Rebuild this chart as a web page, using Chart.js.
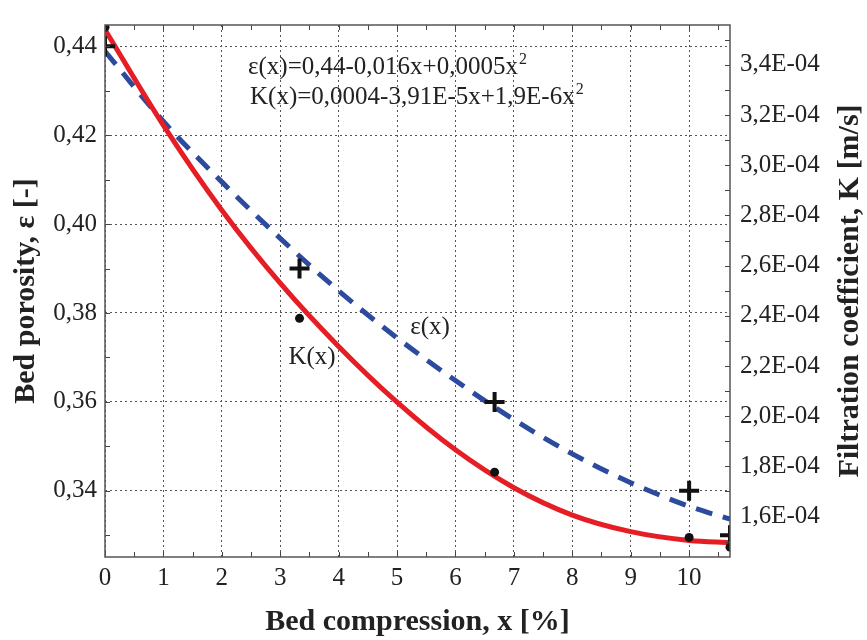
<!DOCTYPE html>
<html>
<head>
<meta charset="utf-8">
<script src="https://cdn.jsdelivr.net/npm/chart.js@4.4.0/dist/chart.umd.min.js"></script>
<style>
html,body{margin:0;padding:0;background:#fff;}
#wrap{width:867px;height:640px;position:relative;}
</style>
</head>
<body>
<div id="wrap"><canvas id="c" width="867" height="640"></canvas></div>
<script>
// ---- data ----
const fitX = [0, 1, 2, 3, 4, 5, 6, 7, 8, 9, 10, 10.7];
const porosityFit = [0.4389, 0.4231, 0.4095, 0.3968, 0.3850, 0.3744, 0.3648, 0.3560, 0.3483, 0.3418, 0.3365, 0.3336];
const kFit = [3.540e-4, 3.159e-4, 2.821e-4, 2.530e-4, 2.278e-4, 2.056e-4, 1.866e-4, 1.715e-4, 1.606e-4, 1.540e-4, 1.505e-4, 1.497e-4];
const measX = [0, 3.33, 6.67, 10, 10.7];
const porosityMeas = [0.44, 0.39, 0.36, 0.34, 0.33];
const kMeas = [3.55e-4, 2.390e-4, 1.777e-4, 1.517e-4, 1.478e-4];

const xTickLabels = ['0', '1', '2', '3', '4', '5', '6', '7', '8', '9', '10'];
const leftTickLabels = ['0,34', '0,36', '0,38', '0,40', '0,42', '0,44'];
const rightTickLabels = ['1,6E-04', '1,8E-04', '2,0E-04', '2,2E-04', '2,4E-04', '2,6E-04', '2,8E-04', '3,0E-04', '3,2E-04', '3,4E-04'];

const xTitle = 'Bed compression, x [%]';
const leftTitle = 'Bed porosity, ε [-]';
const rightTitle = 'Filtration coefficient, K [m/s]';
const eqLines = ['ε(x)=0,44-0,016x+0,0005x', 'K(x)=0,0004-3,91E-5x+1,9E-6x'];
const curveLabels = ['ε(x)', 'K(x)'];

// ---- helpers ----
const pts = (xs, ys) => xs.map((x, i) => ({x: x, y: ys[i]}));
const SERIF = '"Liberation Serif", "Times New Roman", serif';
const TXT = '#222';
const GRID = '#555';

const decorPlugin = {
  id: 'decor',
  afterDraw(chart) {
    const ctx = chart.ctx;
    const a = chart.chartArea;
    const xs = chart.scales.x, yl = chart.scales.y, yr = chart.scales.y1;
    ctx.save();
    // inner tick marks
    ctx.strokeStyle = '#444';
    ctx.lineWidth = 1;
    ctx.beginPath();
    yl.ticks.forEach(t => {
      const p = Math.round(yl.getPixelForValue(t.value)) + 0.5;
      ctx.moveTo(a.left, p); ctx.lineTo(a.left + 5, p);
    });
    yr.ticks.forEach(t => {
      const p = Math.round(yr.getPixelForValue(t.value)) + 0.5;
      ctx.moveTo(a.right, p); ctx.lineTo(a.right - 5, p);
    });
    for (let k = 0; k * 0.5 <= xs.max + 1e-9; k++) {
      const p = Math.round(xs.getPixelForValue(k * 0.5)) + 0.5;
      ctx.moveTo(p, a.bottom); ctx.lineTo(p, a.bottom - 5);
      ctx.moveTo(p, a.top); ctx.lineTo(p, a.top + 5);
    }
    ctx.stroke();
    // frame
    ctx.strokeStyle = '#555';
    ctx.lineWidth = 1.5;
    ctx.strokeRect(a.left, a.top, a.right - a.left, a.bottom - a.top);

    // right axis title (reads bottom to top)
    ctx.fillStyle = TXT;
    ctx.font = 'bold 30px ' + SERIF;
    ctx.textAlign = 'center';
    ctx.textBaseline = 'middle';
    ctx.translate(850, (a.top + a.bottom) / 2);
    ctx.rotate(-Math.PI / 2);
    ctx.fillText(rightTitle, 0, 0);
    ctx.restore();

    // equations
    ctx.save();
    ctx.fillStyle = TXT;
    ctx.textAlign = 'left';
    ctx.textBaseline = 'alphabetic';
    const eqPos = [[248, 74], [250, 104]];
    eqLines.forEach((s, i) => {
      ctx.font = '25px ' + SERIF;
      ctx.fillText(s, eqPos[i][0], eqPos[i][1]);
      const w = ctx.measureText(s).width;
      ctx.font = '16px ' + SERIF;
      ctx.fillText('2', eqPos[i][0] + w + 1, eqPos[i][1] - 10);
    });
    // curve labels
    ctx.font = '25px ' + SERIF;
    ctx.textAlign = 'center';
    ctx.textBaseline = 'middle';
    ctx.fillText(curveLabels[0], 430, 327);
    ctx.fillText(curveLabels[1], 312, 357);
    ctx.restore();
  }
};

const tickFont = {family: SERIF, size: 25};
const titleFont = {family: SERIF, size: 30, weight: 'bold'};

new Chart(document.getElementById('c'), {
  type: 'line',
  data: {
    datasets: [
      {
        label: 'porosity measured', data: pts(measX, porosityMeas), yAxisID: 'y',
        showLine: false, pointStyle: 'cross', pointRadius: 10, pointBorderWidth: 4,
        pointBorderColor: '#111', pointBackgroundColor: '#111', order: 0
      },
      {
        label: 'K measured', data: pts(measX, kMeas), yAxisID: 'y1',
        showLine: false, pointStyle: 'circle', pointRadius: 4.5, pointBorderWidth: 0,
        pointBorderColor: '#111', pointBackgroundColor: '#111', order: 0
      },
      {
        label: 'K(x)', data: pts(fitX, kFit), yAxisID: 'y1',
        borderColor: '#e51e25', borderWidth: 5, pointRadius: 0,
        cubicInterpolationMode: 'monotone', fill: false, order: 1
      },
      {
        label: 'ε(x)', data: pts(fitX, porosityFit), yAxisID: 'y',
        borderColor: '#2c4a9e', borderWidth: 5, borderDash: [17, 11], pointRadius: 0,
        cubicInterpolationMode: 'monotone', fill: false, order: 2
      }
    ]
  },
  options: {
    responsive: false,
    animation: false,
    devicePixelRatio: 1,
    layout: {padding: {top: 11, left: 0, right: 0, bottom: 0}},
    plugins: {legend: {display: false}, tooltip: {enabled: false}},
    scales: {
      x: {
        type: 'linear', min: 0, max: 10.7,
        afterFit: s => { s.height = 83; },
        ticks: {
          stepSize: 1, includeBounds: false, autoSkip: false, maxRotation: 0,
          font: tickFont, color: TXT, padding: 6,
          callback: v => { const i = Math.round(v); return Math.abs(v - i) < 1e-6 && xTickLabels[i] !== undefined ? xTickLabels[i] : ''; }
        },
        grid: {color: GRID, lineWidth: 1, drawTicks: false},
        border: {display: false, dash: [2, 3]},
        title: {display: true, text: xTitle, font: titleFont, color: TXT, padding: {top: 0, bottom: 0}}
      },
      y: {
        type: 'linear', position: 'left', min: 0.3251, max: 0.4448,
        afterFit: s => { s.width = 105; },
        ticks: {
          stepSize: 0.01, includeBounds: false, autoSkip: false,
          font: tickFont, color: TXT, padding: 8,
          callback: v => { const n = Math.round(v * 100); return n % 2 === 0 ? (leftTickLabels[(n - 34) / 2] || '') : ''; }
        },
        grid: {
          lineWidth: 1, drawTicks: false,
          color: c => (c.tick && Math.round(c.tick.value * 100) % 2 === 0) ? GRID : 'rgba(0,0,0,0)'
        },
        border: {display: false, dash: [2, 3]},
        title: {display: true, text: leftTitle, font: titleFont, color: TXT, padding: {top: 8, bottom: 0}}
      },
      y1: {
        type: 'linear', position: 'right', min: 1.4388e-4, max: 3.559e-4,
        afterFit: s => { s.width = 137; },
        ticks: {
          stepSize: 1e-5, includeBounds: false, autoSkip: false,
          font: tickFont, color: TXT, padding: 10,
          callback: v => { const n = Math.round(v * 1e5); return n % 2 === 0 ? (rightTickLabels[(n - 16) / 2] || '') : ''; }
        },
        grid: {drawOnChartArea: false, drawTicks: false},
        border: {display: false}
      }
    }
  },
  plugins: [decorPlugin]
});
</script>
</body>
</html>
